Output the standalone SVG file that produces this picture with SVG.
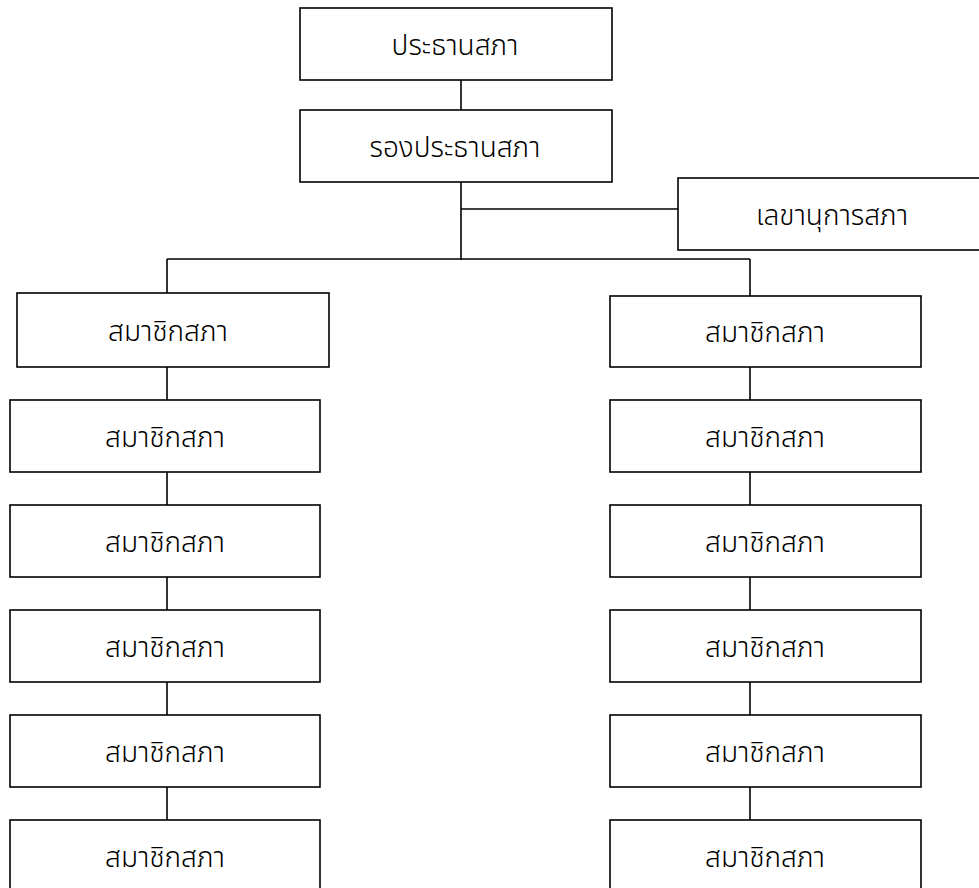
<svg xmlns="http://www.w3.org/2000/svg" width="979" height="888" viewBox="0 0 979 888">
<style>
.box{fill:#fff;stroke:#000;stroke-width:1.6}
.t{font-family:"Noto Sans Thai","Noto Sans","DejaVu Sans",sans-serif;font-size:28px;font-weight:300;fill:#000;text-anchor:middle;dominant-baseline:central}
.ln{stroke:#000;stroke-width:1.6;fill:none}
</style>
<rect width="979" height="888" fill="#fff"/>
<g id="connectors">
<line class="ln" x1="461" y1="80" x2="461" y2="110"/>
<line class="ln" x1="461" y1="182" x2="461" y2="260"/>
<line class="ln" x1="461" y1="209" x2="678" y2="209"/>
<line class="ln" x1="167" y1="259" x2="750" y2="259"/>
<line class="ln" x1="167" y1="259" x2="167" y2="293"/>
<line class="ln" x1="750" y1="259" x2="750" y2="296"/>
<line class="ln" x1="167" y1="367" x2="167" y2="400"/>
<line class="ln" x1="167" y1="472" x2="167" y2="505"/>
<line class="ln" x1="167" y1="577" x2="167" y2="610"/>
<line class="ln" x1="167" y1="682" x2="167" y2="715"/>
<line class="ln" x1="167" y1="787" x2="167" y2="820"/>
<line class="ln" x1="750" y1="367" x2="750" y2="400"/>
<line class="ln" x1="750" y1="472" x2="750" y2="505"/>
<line class="ln" x1="750" y1="577" x2="750" y2="610"/>
<line class="ln" x1="750" y1="682" x2="750" y2="715"/>
<line class="ln" x1="750" y1="787" x2="750" y2="820"/>
</g>
<g id="president"><rect class="box" x="300" y="8" width="312" height="72"/><text class="t" x="455" y="46">ประธานสภา</text></g>
<g id="vice-president"><rect class="box" x="300" y="110" width="312" height="72"/><text class="t" x="455" y="148">รองประธานสภา</text></g>
<g id="secretary"><rect class="box" x="678" y="178" width="310" height="72"/><text class="t" x="832" y="216">เลขานุการสภา</text></g>
<g id="left-1"><rect class="box" x="17" y="293" width="312" height="74"/><text class="t" x="168" y="332">สมาชิกสภา</text></g>
<g id="left-2"><rect class="box" x="10" y="400" width="310" height="72"/><text class="t" x="165" y="438">สมาชิกสภา</text></g>
<g id="left-3"><rect class="box" x="10" y="505" width="310" height="72"/><text class="t" x="165" y="543">สมาชิกสภา</text></g>
<g id="left-4"><rect class="box" x="10" y="610" width="310" height="72"/><text class="t" x="165" y="648">สมาชิกสภา</text></g>
<g id="left-5"><rect class="box" x="10" y="715" width="310" height="72"/><text class="t" x="165" y="753">สมาชิกสภา</text></g>
<g id="left-6"><rect class="box" x="10" y="820" width="310" height="72"/><text class="t" x="165" y="858">สมาชิกสภา</text></g>
<g id="right-1"><rect class="box" x="610" y="296" width="311" height="71"/><text class="t" x="765" y="333">สมาชิกสภา</text></g>
<g id="right-2"><rect class="box" x="610" y="400" width="311" height="72"/><text class="t" x="765" y="438">สมาชิกสภา</text></g>
<g id="right-3"><rect class="box" x="610" y="505" width="311" height="72"/><text class="t" x="765" y="543">สมาชิกสภา</text></g>
<g id="right-4"><rect class="box" x="610" y="610" width="311" height="72"/><text class="t" x="765" y="648">สมาชิกสภา</text></g>
<g id="right-5"><rect class="box" x="610" y="715" width="311" height="72"/><text class="t" x="765" y="753">สมาชิกสภา</text></g>
<g id="right-6"><rect class="box" x="610" y="820" width="311" height="72"/><text class="t" x="765" y="858">สมาชิกสภา</text></g>
</svg>
